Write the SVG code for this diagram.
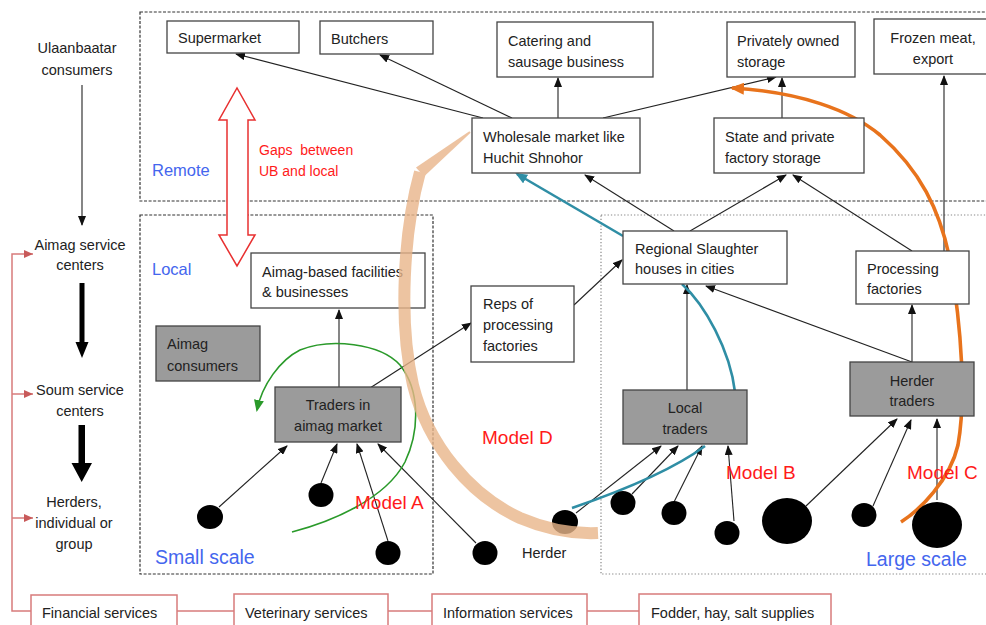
<svg xmlns="http://www.w3.org/2000/svg" width="986" height="625" viewBox="0 0 986 625">
<defs>
<style>
text{font-family:"Liberation Sans",Arial,Helvetica,sans-serif;font-size:14.5px;fill:#222}
.box{fill:#fff;stroke:#444;stroke-width:1.3}
.gbox{fill:#9b9b9b;stroke:#444;stroke-width:1.3}
.rbox{fill:#fff;stroke:#d77b7b;stroke-width:1.5}
.zone{fill:none;stroke:#333;stroke-width:1.2;stroke-dasharray:3 1.6}
.zone2{fill:none;stroke:#888;stroke-width:1.2;stroke-dasharray:1.3 2}
.ar{fill:none;stroke:#222;stroke-width:1.1;marker-end:url(#ah)}
.blue{fill:#4466ee}
.red{fill:#ff1a1a}
.dot{fill:#000}
</style>
<marker id="ah" markerUnits="userSpaceOnUse" markerWidth="10" markerHeight="8" refX="9" refY="4" orient="auto"><path d="M0,0 L10,4 L0,8 Z" fill="#111"/></marker>
<marker id="ahr" markerUnits="userSpaceOnUse" markerWidth="9" markerHeight="8" refX="9" refY="4" orient="auto"><path d="M0,0 L9,4 L0,8 Z" fill="#c85a5a"/></marker>
<marker id="ahg" markerUnits="userSpaceOnUse" markerWidth="12" markerHeight="10" refX="10" refY="5" orient="auto"><path d="M0,0 L12,5 L0,10 Z" fill="#2a9a2a"/></marker>
<marker id="aho" markerUnits="userSpaceOnUse" markerWidth="14" markerHeight="12" refX="12" refY="6" orient="auto"><path d="M0,0 L14,6 L0,12 Z" fill="#e8731c"/></marker>
<marker id="aht" markerUnits="userSpaceOnUse" markerWidth="12" markerHeight="10" refX="10" refY="5" orient="auto"><path d="M0,0 L12,5 L0,10 Z" fill="#2f8ea5"/></marker>
</defs>

<g id="zones">
<rect class="zone" x="140" y="12" width="852" height="189"/>
<rect class="zone" x="140" y="215" width="293" height="359"/>
<rect class="zone2" x="601" y="215" width="391" height="359"/>
</g>

<g id="left-column">
<text x="77" y="53" text-anchor="middle">Ulaanbaatar</text>
<text x="77" y="75" text-anchor="middle">consumers</text>
<text x="80" y="250" text-anchor="middle">Aimag service</text>
<text x="80" y="270" text-anchor="middle">centers</text>
<text x="80" y="395" text-anchor="middle">Soum service</text>
<text x="80" y="416" text-anchor="middle">centers</text>
<text x="74" y="507" text-anchor="middle">Herders,</text>
<text x="74" y="528" text-anchor="middle">individual or</text>
<text x="74" y="549" text-anchor="middle">group</text>
<line x1="82" y1="85" x2="82" y2="225" class="ar"/>
<path d="M79.5,283 H84.5 V342 H88.5 L82,358 L75.5,342 H79.5 Z" fill="#000"/>
<path d="M78.5,425 H85 V463 H92 L81.7,482 L71.5,463 H78.5 Z" fill="#000"/>
</g>

<g id="services" fill="none" stroke="#d77b7b" stroke-width="1.5">
<path d="M31,611 H12 V254 H33" marker-end="url(#ahr)"/>
<path d="M12,394 H33" marker-end="url(#ahr)"/>
<path d="M12,518 H33" marker-end="url(#ahr)"/>
<line x1="177" y1="611" x2="234" y2="611"/>
<line x1="388" y1="611" x2="432" y2="611"/>
<line x1="587" y1="611" x2="639" y2="611"/>
</g>
<g id="svc-financial"><rect class="rbox" x="31" y="595" width="146" height="40"/><text x="42" y="618">Financial services</text></g>
<g id="svc-veterinary"><rect class="rbox" x="234" y="594" width="154" height="40"/><text x="245" y="618">Veterinary services</text></g>
<g id="svc-information"><rect class="rbox" x="432" y="594" width="155" height="40"/><text x="443" y="618">Information services</text></g>
<g id="svc-fodder"><rect class="rbox" x="639" y="594" width="192" height="40"/><text x="651" y="618">Fodder, hay, salt supplies</text></g>

<g id="gap-arrow">
<path d="M227,120 H219 L237,88 L255,120 H248 V235 H255 L237,266 L219,235 H227 Z" fill="#fff" stroke="#e83030" stroke-width="1.5"/>
</g>

<g id="connectors">
<line class="ar" x1="483" y1="118" x2="236" y2="54"/>
<line class="ar" x1="512" y1="118" x2="380" y2="55"/>
<line class="ar" x1="558" y1="118" x2="558" y2="78"/>
<line class="ar" x1="603" y1="118" x2="776" y2="77"/>
<line class="ar" x1="782" y1="118" x2="782" y2="78"/>
<line class="ar" x1="944" y1="251" x2="944" y2="76"/>
<line class="ar" x1="674" y1="231" x2="585" y2="175"/>
<line class="ar" x1="690" y1="231" x2="786" y2="175"/>
<line class="ar" x1="912" y1="251" x2="793" y2="175"/>
<line class="ar" x1="574" y1="305" x2="622" y2="260"/>
<line class="ar" x1="370" y1="388" x2="471" y2="323"/>
<line class="ar" x1="339" y1="387" x2="339" y2="310"/>
<line class="ar" x1="912" y1="362" x2="706" y2="286"/>
<line class="ar" x1="912" y1="362" x2="912" y2="305"/>
<line class="ar" x1="687" y1="390" x2="687" y2="285"/>
<line class="ar" x1="219" y1="507" x2="287" y2="446"/>
<line class="ar" x1="321" y1="483" x2="337" y2="444"/>
<line class="ar" x1="388" y1="541" x2="357" y2="444"/>
<line class="ar" x1="476" y1="543" x2="378" y2="444"/>
<line class="ar" x1="576" y1="513" x2="661" y2="446"/>
<line class="ar" x1="632" y1="494" x2="678" y2="446"/>
<line class="ar" x1="674" y1="502" x2="702" y2="446"/>
<line class="ar" x1="734" y1="521" x2="728" y2="446"/>
<line class="ar" x1="806" y1="506" x2="897" y2="419"/>
<line class="ar" x1="873" y1="506" x2="911" y2="420"/>
<line class="ar" x1="937" y1="500" x2="937" y2="419"/>
<path d="M623,236 L517,174" fill="none" stroke="#2f8ea5" stroke-width="2.6" marker-end="url(#aht)"/>
<path d="M572,508 C610,495 670,472 705,446 M735,392 C730,350 705,305 682,284" fill="none" stroke="#2f8ea5" stroke-width="2.6"/>
<path d="M292,532 C330,522 385,500 405,462 C420,430 420,390 400,365 C380,343 330,338 300,350 C280,360 262,385 257,410" fill="none" stroke="#2a9a2a" stroke-width="1.6" marker-end="url(#ahg)"/>
<path d="M901,522 C920,510 950,480 958,445 C966,400 962,330 950,260 C940,210 920,170 880,135 C850,110 800,92 732,88" fill="none" stroke="#e8731c" stroke-width="3.6" marker-end="url(#aho)"/>
</g>

<g id="n-supermarket"><rect class="box" x="167" y="21" width="132" height="32"/><text x="178" y="43">Supermarket</text></g>
<g id="n-butchers"><rect class="box" x="320" y="21" width="113" height="33"/><text x="331" y="44">Butchers</text></g>
<g id="n-catering"><rect class="box" x="497" y="22" width="156" height="55"/><text x="508" y="46">Catering and</text><text x="508" y="67">sausage business</text></g>
<g id="n-private-storage"><rect class="box" x="727" y="22" width="128" height="55"/><text x="737" y="46">Privately owned</text><text x="737" y="67">storage</text></g>
<g id="n-frozen"><rect class="box" x="874" y="19" width="115" height="55"/><text x="933" y="43" text-anchor="middle">Frozen meat,</text><text x="933" y="64" text-anchor="middle">export</text></g>
<g id="n-wholesale"><rect class="box" x="472" y="118" width="168" height="55"/><text x="483" y="142">Wholesale market like</text><text x="483" y="163">Huchit Shnohor</text></g>
<g id="n-factory-storage"><rect class="box" x="714" y="118" width="150" height="55"/><text x="725" y="142">State and private</text><text x="725" y="163">factory storage</text></g>
<g id="n-slaughter"><rect class="box" x="623" y="231" width="164" height="53"/><text x="635" y="254">Regional Slaughter</text><text x="635" y="274">houses in cities</text></g>
<g id="n-processing"><rect class="box" x="856" y="251" width="113" height="53"/><text x="867" y="274">Processing</text><text x="867" y="294">factories</text></g>
<g id="n-reps"><rect class="box" x="471" y="286" width="103" height="76"/><text x="483" y="309">Reps of</text><text x="483" y="330">processing</text><text x="483" y="351">factories</text></g>
<g id="n-aimag-facilities"><rect class="box" x="251" y="253" width="174" height="55"/><text x="262" y="277">Aimag-based facilities</text><text x="262" y="297">&amp; businesses</text></g>
<g id="n-aimag-consumers"><rect class="gbox" x="156" y="326" width="104" height="55"/><text x="167" y="349">Aimag</text><text x="167" y="371">consumers</text></g>
<g id="n-traders-aimag"><rect class="gbox" x="275" y="387" width="126" height="55"/><text x="338" y="410" text-anchor="middle">Traders in</text><text x="338" y="431" text-anchor="middle">aimag market</text></g>
<g id="n-local-traders"><rect class="gbox" x="623" y="390" width="124" height="54"/><text x="685" y="413" text-anchor="middle">Local</text><text x="685" y="434" text-anchor="middle">traders</text></g>
<g id="n-herder-traders"><rect class="gbox" x="850" y="362" width="124" height="54"/><text x="912" y="386" text-anchor="middle">Herder</text><text x="912" y="406" text-anchor="middle">traders</text></g>

<g id="herders">
<ellipse class="dot" cx="210" cy="517" rx="13" ry="12"/>
<ellipse class="dot" cx="321" cy="495" rx="12.5" ry="12"/>
<ellipse class="dot" cx="388" cy="553" rx="12.5" ry="12"/>
<ellipse class="dot" cx="485" cy="553" rx="12.5" ry="12"/>
<ellipse class="dot" cx="565" cy="522" rx="13" ry="12"/>
<ellipse class="dot" cx="623" cy="503" rx="12.5" ry="12"/>
<ellipse class="dot" cx="674" cy="513" rx="12.5" ry="12"/>
<ellipse class="dot" cx="727" cy="533" rx="12.5" ry="12"/>
<ellipse class="dot" cx="787" cy="521" rx="25" ry="23"/>
<ellipse class="dot" cx="864" cy="515" rx="12.5" ry="12"/>
<ellipse class="dot" cx="937" cy="525" rx="25" ry="23"/>
</g>

<g id="model-d-curve" opacity="0.8">
<path d="M470.6,132.8 L469.4,131.2 L416,167.5 L424,176.5 Z" fill="#e9b58a"/>
<path d="M420,172 C404,230 398,320 413,385 C428,445 470,495 520,518 C548,530 575,534 598,533" fill="none" stroke="#e9b58a" stroke-width="12"/>
</g>

<g id="labels">
<text class="blue" x="152" y="176" style="font-size:16.5px">Remote</text>
<text class="blue" x="152" y="275" style="font-size:16.5px">Local</text>
<text class="blue" x="155" y="564" style="font-size:19.5px">Small scale</text>
<text class="blue" x="866" y="566" style="font-size:19.5px">Large scale</text>
<text class="red" x="259" y="155" style="font-size:14px" xml:space="preserve">Gaps  between</text>
<text class="red" x="259" y="176" style="font-size:14px">UB and local</text>
<text class="red" x="355" y="509" style="font-size:19px">Model A</text>
<text class="red" x="482" y="444" style="font-size:19px">Model D</text>
<text class="red" x="726" y="479" style="font-size:19px">Model B</text>
<text class="red" x="907" y="479" style="font-size:19px">Model C</text>
<text x="522" y="558">Herder</text>
</g>
</svg>
